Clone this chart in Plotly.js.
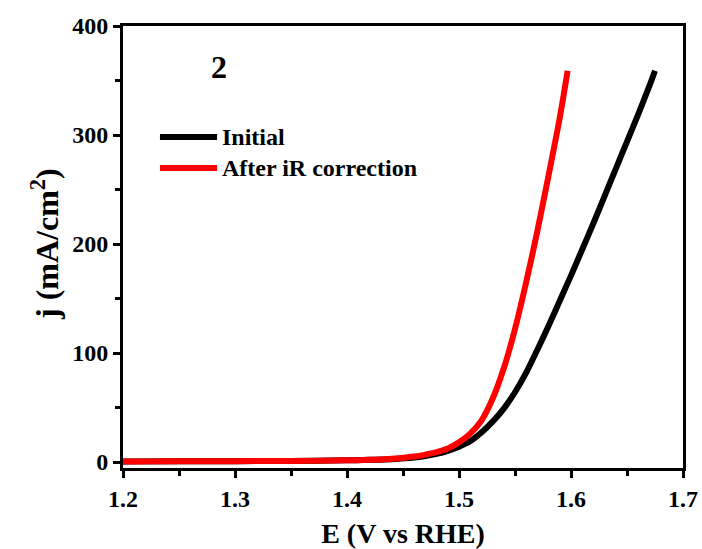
<!DOCTYPE html>
<html>
<head>
<meta charset="utf-8">
<script src="https://cdn.plot.ly/plotly-3.0.1.min.js"></script>
<style>
  html, body { margin: 0; padding: 0; background: #fff; }
  #chart { width: 702px; height: 549px; }
</style>
</head>
<body>
<div id="chart"></div>
<script>
// Polarization curves: potential (V vs RHE) and current density (mA/cm^2)
const seriesNames = ["Initial", "After iR correction"];
const seriesColors = ["#000000", "#ff0000"];

const initialE = [1.20, 1.25, 1.30, 1.35, 1.40, 1.42, 1.44, 1.46, 1.47, 1.48, 1.49, 1.50, 1.51, 1.52, 1.53, 1.54, 1.55, 1.56, 1.57, 1.58, 1.59, 1.60, 1.61, 1.62, 1.63, 1.64, 1.65, 1.66, 1.67, 1.675];
const initialJ = [0.5, 0.6, 0.8, 1.0, 1.5, 2.0, 2.6, 4.0, 5.5, 7.5, 10.3, 14, 19, 27, 37, 49, 64, 82, 103, 125, 148, 171, 195, 219, 244, 269, 294, 319, 345, 359];

const correctedE = [1.20, 1.25, 1.30, 1.35, 1.40, 1.42, 1.44, 1.46, 1.47, 1.48, 1.49, 1.50, 1.51, 1.52, 1.53, 1.54, 1.55, 1.56, 1.57, 1.58, 1.59, 1.597];
const correctedJ = [0.5, 0.6, 0.8, 1.0, 1.5, 2.1, 3.0, 5.0, 6.8, 9.0, 12.5, 18, 26, 38, 58, 86, 122, 165, 212, 263, 316, 359];

const panelLabel = "2";

const serif = "Liberation Serif, Times New Roman, serif";

const traces = [
  {
    x: initialE, y: initialJ, name: seriesNames[0],
    type: "scatter", mode: "lines",
    line: { color: seriesColors[0], width: 6, shape: "spline", smoothing: 0.8 }
  },
  {
    x: correctedE, y: correctedJ, name: seriesNames[1],
    type: "scatter", mode: "lines",
    line: { color: seriesColors[1], width: 6, shape: "spline", smoothing: 0.8 }
  }
];

const axisCommon = {
  showgrid: false, zeroline: false,
  showline: true, linecolor: "#000", linewidth: 3, mirror: true,
  ticks: "outside", ticklen: 7, tickwidth: 3, tickcolor: "#000",
  tickfont: { family: serif, size: 24, color: "#000", weight: "bold" }
};

// Legend: key lines and labels placed in paper coordinates
const legendX0 = 0.066, legendX1 = 0.168, legendTextX = 0.173;
const legendRows = [0.749, 0.679];

const legendShapes = seriesNames.map(function (name, i) {
  return {
    type: "line", xref: "paper", yref: "paper",
    x0: legendX0, x1: legendX1, y0: legendRows[i], y1: legendRows[i],
    line: { color: seriesColors[i], width: 6 }
  };
});
const legendLabels = seriesNames.map(function (name, i) {
  return {
    x: legendTextX, y: legendRows[i], xref: "paper", yref: "paper",
    xanchor: "left", yanchor: "middle", showarrow: false, text: name,
    font: { family: serif, size: 24, color: "#000", weight: "bold" }
  };
});

const layout = {
  width: 702, height: 549,
  margin: { l: 123, r: 19, t: 26, b: 81 },
  paper_bgcolor: "#fff", plot_bgcolor: "#fff",
  showlegend: false,
  xaxis: Object.assign({}, axisCommon, {
    range: [1.2, 1.7], dtick: 0.1, tick0: 1.2, tickformat: ".1f",
    minor: { dtick: 0.05, ticks: "outside", ticklen: 5, tickwidth: 3, tickcolor: "#000" },
    title: { text: "E (V vs RHE)", font: { family: serif, size: 28, color: "#000", weight: "bold" }, standoff: 15 }
  }),
  yaxis: Object.assign({}, axisCommon, {
    range: [-5.5, 400], dtick: 100, tick0: 0,
    minor: { dtick: 50, ticks: "outside", ticklen: 5, tickwidth: 3, tickcolor: "#000" },
    title: { text: "" }
  }),
  shapes: legendShapes,
  annotations: [
    {
      x: 1.2857, y: 362, xref: "x", yref: "y", text: panelLabel, showarrow: false,
      font: { family: serif, size: 32, color: "#000", weight: "bold" }
    },
    {
      // y-axis title as a rotated annotation
      x: 0, y: 0.5, xref: "paper", yref: "paper", xanchor: "center", yanchor: "middle",
      xshift: -78, yshift: 3, textangle: -90, showarrow: false,
      text: "j (mA/cm<sup>2</sup>)",
      font: { family: serif, size: 32, color: "#000", weight: "bold" }
    }
  ].concat(legendLabels)
};

Plotly.newPlot("chart", traces, layout, { displayModeBar: false, staticPlot: true });
</script>
</body>
</html>
